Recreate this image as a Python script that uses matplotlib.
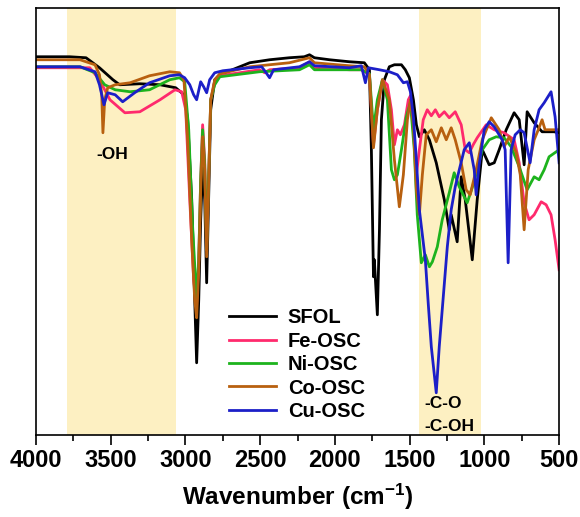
import numpy as np
import matplotlib.pyplot as plt

plt.rcParams['font.family'] = ['Liberation Sans', 'DejaVu Sans']
plt.rcParams['font.weight'] = 'bold'
plt.rcParams['mathtext.fontset'] = 'custom'
plt.rcParams['mathtext.rm'] = 'Liberation Sans:bold'
plt.rcParams['mathtext.bf'] = 'Liberation Sans:bold'
plt.rcParams['mathtext.default'] = 'bf'

# Спектры ИК (волновое число, см-1 ; пропускание, отн. ед.)
sfol_w = [4000, 3775, 3665, 3575, 3485, 3440, 3305, 3170, 3065, 3010, 2985, 2958, 2938, 2925,
          2911, 2898, 2885, 2871, 2858, 2845, 2831, 2804, 2770, 2570, 2437, 2305, 2205, 2170,
          2137, 2036, 1903, 1803, 1769, 1756, 1742, 1736, 1729, 1716, 1702, 1689, 1669, 1636,
          1602, 1555, 1529, 1502, 1475, 1455, 1435, 1402, 1368, 1322, 1268, 1235, 1222, 1182,
          1155, 1128, 1081, 1048, 1014, 968, 934, 901, 854, 801, 767, 734, 714, 667, 614, 534, 500]
sfol_t = [378, 378, 377, 367, 355, 350, 351, 350, 347, 340, 315, 235, 135, 72,
          135, 215, 267, 235, 152, 235, 325, 355, 360, 372, 375, 377, 378, 380,
          377, 375, 373, 372, 365, 285, 158, 175, 155, 120, 205, 315, 355, 368,
          370, 370, 365, 357, 335, 310, 298, 305, 295, 272, 235, 205, 220, 193,
          258, 235, 175, 235, 285, 270, 272, 285, 305, 322, 315, 270, 323, 312, 303, 303, 302]

fe_w = [4000, 3640, 3575, 3505, 3405, 3305, 3170, 3070, 3025, 2998, 2971, 2945, 2925, 2911,
        2898, 2885, 2871, 2858, 2845, 2831, 2804, 2770, 2505, 2470, 2437, 2237, 2170, 2137,
        1903, 1823, 1769, 1742, 1716, 1682, 1649, 1622, 1602, 1582, 1562, 1535, 1509, 1495,
        1475, 1455, 1435, 1409, 1382, 1355, 1328, 1302, 1268, 1235, 1195, 1155, 1128, 1101,
        1075, 1048, 988, 934, 868, 801, 767, 734, 701, 667, 620, 587, 554, 527, 500]
fe_t = [367, 367, 355, 335, 322, 323, 335, 345, 343, 325, 235, 155, 130, 175,
        255, 310, 275, 185, 255, 335, 353, 359, 365, 362, 365, 367, 373, 367,
        365, 365, 360, 290, 325, 355, 350, 325, 290, 305, 300, 310, 335, 339,
        305, 260, 285, 315, 325, 319, 325, 318, 323, 317, 323, 310, 285, 282,
        290, 297, 310, 305, 302, 295, 272, 232, 215, 220, 233, 230, 220, 195, 165]

ni_w = [4000, 3705, 3605, 3540, 3470, 3370, 3240, 3105, 3040, 3005, 2978, 2951, 2925, 2911,
        2898, 2885, 2871, 2858, 2845, 2831, 2804, 2770, 2505, 2237, 2170, 2137, 1903, 1823,
        1769, 1742, 1716, 1682, 1649, 1622, 1602, 1582, 1555, 1522, 1495, 1469, 1449, 1422,
        1395, 1368, 1348, 1315, 1282, 1235, 1202, 1168, 1115, 1075, 1048, 1014, 968, 921,
        868, 821, 767, 714, 667, 634, 600, 567, 500]
ni_t = [368, 368, 362, 350, 345, 343, 345, 355, 357, 353, 305, 205, 135, 175,
        255, 305, 270, 185, 255, 335, 350, 358, 363, 365, 370, 365, 365, 365,
        361, 305, 335, 355, 335, 265, 255, 260, 285, 318, 332, 285, 220, 172,
        180, 168, 173, 188, 215, 242, 262, 248, 232, 250, 265, 285, 295, 298,
        297, 288, 268, 245, 258, 255, 265, 278, 285]

co_w = [4000, 3705, 3605, 3575, 3560, 3552, 3540, 3520, 3470, 3370, 3240, 3105, 3040, 3010,
        2985, 2958, 2938, 2925, 2911, 2898, 2885, 2871, 2858, 2845, 2831, 2804, 2770, 2570,
        2305, 2170, 2137, 1903, 1803, 1769, 1742, 1716, 1682, 1636, 1602, 1569, 1542, 1515,
        1495, 1475, 1455, 1435, 1415, 1389, 1355, 1322, 1288, 1255, 1222, 1195, 1155, 1122,
        1095, 1055, 1014, 954, 901, 868, 834, 787, 760, 734, 707, 667, 634, 614, 594, 534, 500]
co_t = [375, 375, 370, 360, 340, 302, 335, 347, 350, 352, 359, 363, 362, 355,
        295, 195, 135, 117, 165, 245, 298, 265, 178, 250, 335, 355, 361, 368,
        372, 377, 372, 369, 368, 360, 287, 325, 355, 335, 275, 228, 260, 315,
        335, 310, 245, 220, 260, 300, 305, 293, 307, 295, 307, 295, 272, 245,
        240, 265, 295, 317, 305, 288, 298, 282, 260, 205, 265, 295, 307, 315, 305, 305, 305]

cu_w = [4000, 3705, 3605, 3575, 3545, 3520, 3470, 3420, 3340, 3240, 3105, 3040, 3005, 2971,
        2945, 2925, 2898, 2878, 2858, 2838, 2804, 2750, 2570, 2490, 2465, 2437, 2410, 2237,
        2170, 2137, 1903, 1823, 1796, 1776, 1702, 1636, 1582, 1542, 1515, 1495, 1475, 1455,
        1435, 1415, 1395, 1375, 1355, 1322, 1302, 1275, 1248, 1222, 1195, 1168, 1135, 1101,
        1068, 1055, 1035, 1001, 968, 934, 881, 861, 841, 821, 794, 760, 734, 694, 667, 634,
        600, 554, 527, 500]
cu_t = [368, 368, 363, 350, 330, 342, 340, 333, 342, 352, 359, 360, 357, 350,
        340, 335, 353, 348, 342, 355, 362, 364, 367, 368, 363, 357, 365, 368,
        373, 369, 367, 369, 352, 367, 365, 363, 360, 352, 353, 343, 318, 275,
        225, 200, 175, 130, 88, 42, 88, 138, 188, 225, 248, 265, 285, 292,
        265, 240, 270, 305, 313, 308, 295, 285, 172, 285, 300, 305, 302, 272, 305, 325,
        332, 343, 318, 272]

labels = ['SFOL', 'Fe-OSC', 'Ni-OSC', 'Co-OSC', 'Cu-OSC']
colors = ['#000000', '#ff2a6d', '#1db31d', '#b8600f', '#1c1fc8']

fig = plt.figure(figsize=(5.8, 5.17), dpi=100)
ax = fig.add_axes([0.062, 0.159, 0.902, 0.826])

# Области поглощения
ax.axvspan(3790, 3060, color='#fdf0c2', zorder=0, lw=0)
ax.axvspan(1440, 1020, color='#fdf0c2', zorder=0, lw=0)

data = [(sfol_w, sfol_t), (fe_w, fe_t), (ni_w, ni_t), (co_w, co_t), (cu_w, cu_t)]
for (w, t), lab, c in zip(data, labels, colors):
    ax.plot(w, t, color=c, lw=2, label=lab)

ax.set_xlim(4000, 500)
ax.set_ylim(0, 427)
ax.set_yticks([])
ax.set_xticks(np.arange(4000, 499, -500))
ax.set_xticks(np.arange(3750, 500, -500), minor=True)
ax.tick_params(axis='x', which='major', direction='out', length=7, width=1.2,
               labelsize=17, pad=3)
ax.tick_params(axis='x', which='minor', direction='out', length=4, width=1.2)
for lbl in ax.get_xticklabels():
    lbl.set_fontweight('bold')
for s in ax.spines.values():
    s.set_linewidth(1.2)

ax.set_xlabel('Wavenumber (cm$^{-1}$)', fontsize=17.5, fontweight='bold', labelpad=7)

ax.text(3490, 280, '-OH', fontsize=12.5, fontweight='bold', ha='center', va='center')
ax.text(1402, 31, '-C-O', fontsize=12.5, fontweight='bold', ha='left', va='center')
ax.text(1402, 8, '-C-OH', fontsize=12.5, fontweight='bold', ha='left', va='center')

leg = ax.legend(loc='lower left', bbox_to_anchor=(0.335, -0.01), frameon=False,
                prop={'weight': 'bold', 'size': 14.5}, handlelength=2.3,
                labelspacing=0.22, handletextpad=0.6)

plt.savefig('out.png', dpi=100)
